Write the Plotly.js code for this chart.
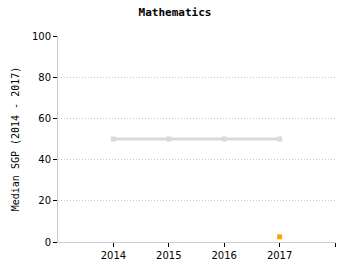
<!DOCTYPE html>
<html><head><meta charset="utf-8">
<script src="https://cdn.plot.ly/plotly-3.0.1.min.js"></script>
<style>html,body{margin:0;padding:0;background:#fff}</style>
</head><body><div id="chart" style="width:350px;height:275px"></div>
<script>
const years = [2014, 2015, 2016, 2017];
const baseline = [50, 50, 50, 50];
const pointYear = [2017];
const pointValue = [2.5];
const tickVals = [2014, 2015, 2016, 2017, 2018];
const tickText = ['2014', '2015', '2016', '2017', ''];

Plotly.newPlot('chart', [
  {x: years, y: baseline, type: 'scatter', mode: 'lines+markers',
   line: {color: '#d9d9d9', width: 3}, marker: {symbol: 'square', size: 5, color: '#d9d9d9'},
   hoverinfo: 'none'},
  {x: pointYear, y: pointValue, type: 'scatter', mode: 'markers',
   marker: {symbol: 'square', size: 5, color: '#ffa500'}}
], {
  width: 350, height: 275, showlegend: false,
  paper_bgcolor: '#fff', plot_bgcolor: '#fff',
  margin: {l: 58, r: 15, t: 36, b: 33},
  title: {text: '<b>Mathematics</b>', x: 0.5, xanchor: 'center', y: 0.97, yanchor: 'top',
    font: {family: 'DejaVu Sans Mono', size: 11, color: '#000'}},
  font: {family: 'DejaVu Sans', size: 10, color: '#000'},
  xaxis: {range: [2013, 2018], tickvals: tickVals, ticktext: tickText, showgrid: false,
    zeroline: false, showline: true, linecolor: '#cccccc', linewidth: 1,
    ticks: 'outside', ticklen: 4, tickcolor: '#000', tickfont: {size: 10}},
  yaxis: {range: [0, 100], tickvals: [0, 20, 40, 60, 80, 100], showgrid: true,
    gridcolor: '#c4c4c4', griddash: '1px,2px', gridwidth: 1, zeroline: false,
    showline: true, linecolor: '#cccccc', linewidth: 1,
    ticks: 'outside', ticklen: 4, tickcolor: '#000', tickfont: {size: 10},
    title: {text: 'Median SGP (2014 - 2017)', standoff: 10,
      font: {family: 'DejaVu Sans Mono', size: 10, color: '#000'}}}
}, {displayModeBar: false, staticPlot: true});
</script></body></html>
